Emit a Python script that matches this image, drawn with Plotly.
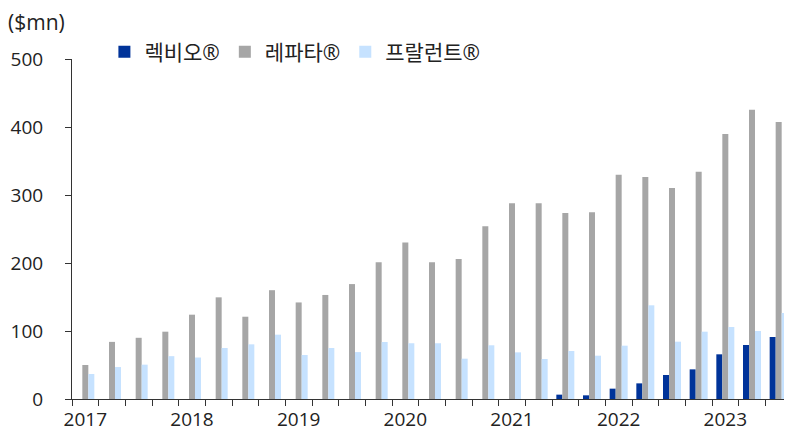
import plotly.graph_objects as go

quarters = [f"{y}Q{q}" for y in range(2017, 2024) for q in range(1, 5)][:27]
year_labels = [q[:4] if q.endswith("Q1") else "" for q in quarters]

rexulti = [None] * 18 + [6.4, 5.4, 15.2, 23, 35.3, 43.6, 65.7, 79.4, 91.2]
repatha = [50, 84, 90, 99, 124, 149.5, 121, 160, 142, 153, 169, 201, 230, 201, 206, 254,
           287.7, 287.7, 273.5, 274.5, 329.9, 326.5, 310.3, 334.3, 389.7, 425.5, 407.4]
prolia = [36.8, 47, 50.5, 63, 61, 75, 80.4, 94.6, 64.7, 75, 69, 83.8, 82, 82, 59.3, 79,
          68.6, 58.8, 70.6, 63.7, 78.4, 137.8, 84.3, 99, 105.9, 100, 126.5]

names = ["렉비오®", "레파타®", "프랄런트®"]
colors = ["#003399", "#A6A6A6", "#C6E2FF"]

FONT = "Open Sans, Noto Sans CJK KR, sans-serif"

fig = go.Figure()
for name, vals, col in zip(names, [rexulti, repatha, prolia], colors):
    fig.add_trace(go.Bar(x=quarters, y=vals, name=name, marker_color=col,
                         marker_line_width=0))

# page body has an 8px margin, so the figure is sized/offset to compensate
fig.update_layout(
    width=784, height=427,
    margin=dict(l=64, r=0, t=51, b=36, autoexpand=False),
    plot_bgcolor="white", paper_bgcolor="white",
    barmode="group", bargap=0.325, bargroupgap=0,
    font=dict(family=FONT, size=19, color="#222222"),
    legend=dict(orientation="h", x=0.045, xanchor="left", y=1.02, yanchor="middle",
                font=dict(size=21), bgcolor="rgba(0,0,0,0)", itemwidth=30,
                traceorder="normal"),
    showlegend=True,
)
fig.update_xaxes(
    type="category", tickmode="array", tickvals=quarters, ticktext=year_labels,
    tickson="boundaries", ticks="outside", ticklen=6, tickcolor="#333333",
    showline=True, linecolor="#333333", linewidth=1, showgrid=False,
    tickfont=dict(size=19), tickangle=0, fixedrange=True, ticklabelstandoff=3,
)
fig.update_yaxes(
    range=[0, 500], tickvals=[0, 100, 200, 300, 400, 500], ticks="outside", ticklen=6,
    tickcolor="#333333", showline=True, linecolor="#333333", linewidth=1,
    showgrid=False, zeroline=False, tickfont=dict(size=19), ticklabelstandoff=18,
)
fig.add_annotation(text="($mn)", xref="paper", yref="paper", x=-0.0917, y=1.11,
                   xanchor="left", yanchor="middle", showarrow=False,
                   font=dict(size=21, family=FONT))

fig.write_html("out.html")
